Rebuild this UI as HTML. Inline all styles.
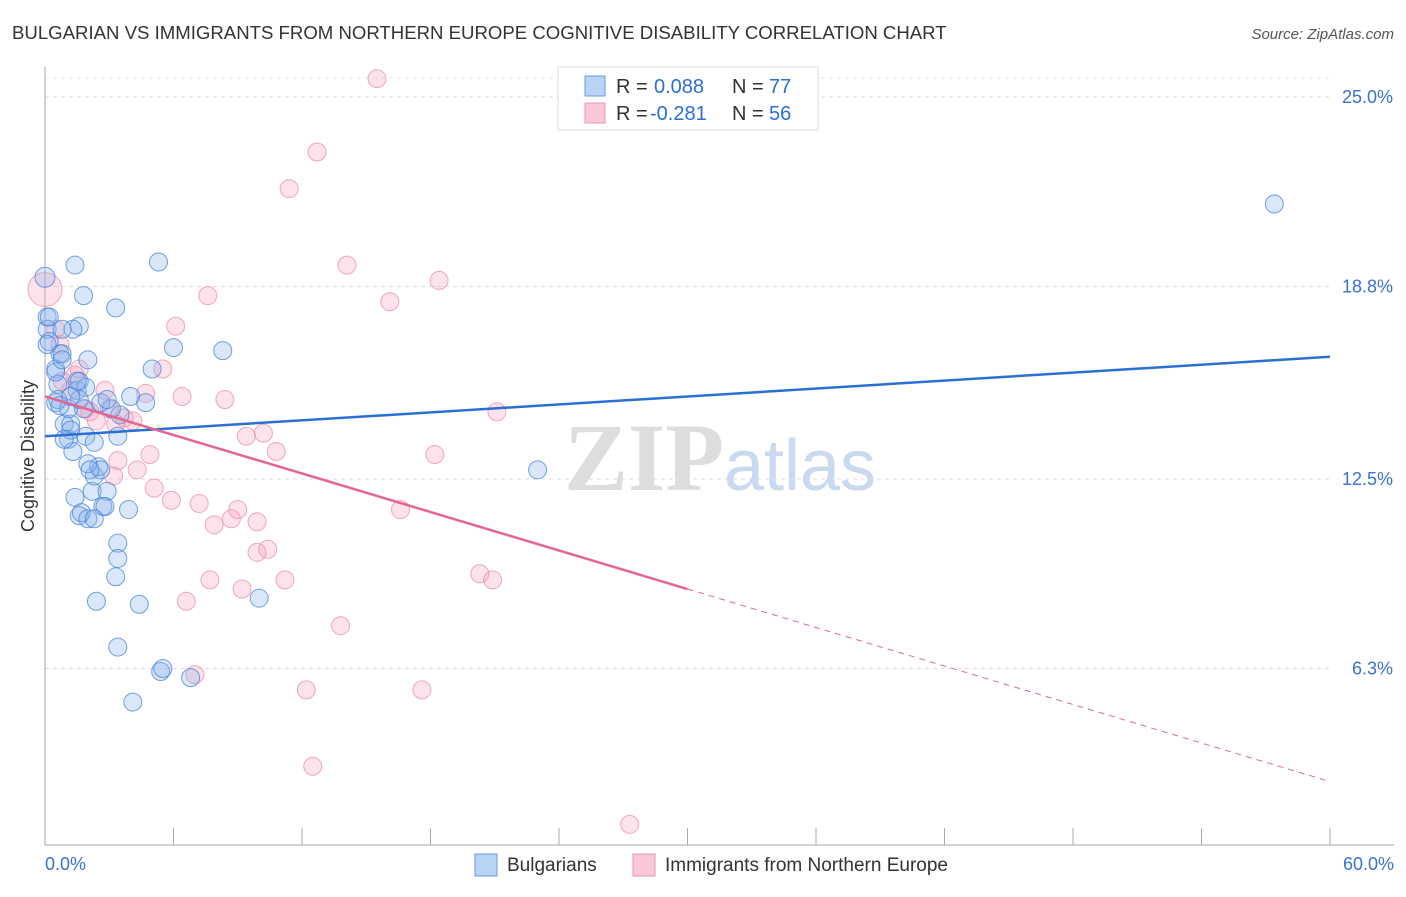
<!DOCTYPE html>
<html><head><meta charset="utf-8"><style>
body{margin:0;background:#fff;font-family:"Liberation Sans",sans-serif;}
svg text{font-family:"Liberation Sans",sans-serif;}
</style></head><body>
<svg id="chart" width="1406" height="892" xmlns="http://www.w3.org/2000/svg">
<text x="12" y="39" font-size="18.6" fill="#333">BULGARIAN VS IMMIGRANTS FROM NORTHERN EUROPE COGNITIVE DISABILITY CORRELATION CHART</text>
<text x="1394" y="39" font-size="15" fill="#555" text-anchor="end" font-style="italic">Source: ZipAtlas.com</text>
<text x="720" y="490" font-size="96" text-anchor="middle"><tspan fill="#ddd" font-family="Liberation Serif" font-weight="bold">ZIP</tspan><tspan fill="#c9d9ef" font-size="72">atlas</tspan></text>
<g id="grid"></g>
<g id="axes"></g>
<g id="pts"></g>
<g id="lines"></g>
<text transform="translate(34,456) rotate(-90)" font-size="18" fill="#333" text-anchor="middle">Cognitive Disability</text>
<g>
<rect x="558" y="67" width="260" height="63" fill="#fff" stroke="#ddd"/>
<rect x="585" y="76" width="20" height="20" fill="#b8d3f5" stroke="#6a9ee0"/>
<rect x="585" y="103" width="20" height="20" fill="#f9c8d6" stroke="#ec94ae"/>
<text y="93" font-size="20" fill="#333"><tspan x="616">R =</tspan><tspan x="654" fill="#2b6fd4">0.088</tspan><tspan x="732">N =</tspan><tspan x="769" fill="#2b6fd4">77</tspan></text>
<text y="120" font-size="20" fill="#333"><tspan x="616">R =</tspan><tspan x="650" fill="#2b6fd4">-0.281</tspan><tspan x="732">N =</tspan><tspan x="769" fill="#2b6fd4">56</tspan></text>
</g>
<g>
<rect x="475" y="854" width="22" height="22" fill="#b8d3f5" stroke="#6a9ee0"/>
<text x="507" y="871" font-size="19" fill="#333">Bulgarians</text>
<rect x="633" y="854" width="22" height="22" fill="#f9c8d6" stroke="#ec94ae"/>
<text x="665" y="871" font-size="19" fill="#333">Immigrants from Northern Europe</text>
</g>
</svg>
<script>
const yTicks=[25.0,18.8,12.5,6.3];
const yTickLabels=["25.0%","18.8%","12.5%","6.3%"];
const xTickLabels=["0.0%","60.0%"];
const blueX=[0.0,0.1,0.1,0.2,0.5,0.6,0.7,0.8,0.5,0.6,0.9,1.1,1.2,1.3,1.1,1.4,1.6,1.3,1.8,2.0,1.6,1.5,1.9,1.4,1.6,1.7,2.0,2.2,2.3,2.5,2.6,2.0,1.9,2.3,2.9,2.7,2.8,3.3,3.4,3.5,3.9,3.4,3.4,3.3,2.4,4.4,3.4,4.1,4.0,4.7,3.1,5.3,6.0,5.0,8.3,5.4,5.5,6.8,10.0,23.0,57.4,0.7,1.2,0.5,0.8,1.5,1.8,2.6,0.9,2.9,2.1,1.6,0.2,0.8,1.2,2.3,0.1];
const blueY=[19.1,17.8,17.4,17.0,16.1,15.6,16.6,16.6,15.0,15.1,14.3,13.8,14.3,13.4,14.8,19.5,17.5,17.4,18.5,16.4,15.7,15.4,15.5,11.9,11.3,11.4,11.2,12.1,12.6,12.9,12.8,13.0,13.9,13.7,12.1,11.6,11.6,18.1,13.9,14.6,11.5,10.4,9.9,9.3,8.5,8.4,7.0,5.2,15.2,15.0,14.8,19.6,16.8,16.1,16.7,6.2,6.3,6.0,8.6,12.8,21.5,14.9,14.1,16.0,16.4,15.7,14.8,15.0,13.8,15.1,12.8,15.1,17.8,17.4,15.2,11.2,16.9];
const pinkX=[0.0,0.5,0.7,0.8,1.2,1.4,1.6,1.9,2.1,2.4,2.8,3.0,3.3,3.7,4.1,4.7,4.9,4.3,3.4,3.2,5.1,5.9,6.6,7.0,7.2,7.6,7.7,7.9,8.4,8.7,9.0,9.2,9.4,9.9,9.9,10.2,10.4,10.8,11.2,11.4,12.2,12.5,12.7,13.8,14.1,15.5,16.1,16.6,17.6,18.2,18.4,20.3,20.9,21.1,27.3,6.1,6.4,5.5];
const pinkY=[18.7,17.4,16.9,15.7,15.4,15.9,16.1,14.8,14.7,14.4,15.4,14.8,14.3,14.5,14.4,15.3,13.3,12.8,13.1,12.6,12.2,11.8,8.5,6.1,11.7,18.5,9.2,11.0,15.1,11.2,11.5,8.9,13.9,11.1,10.1,14.0,10.2,13.4,9.2,22.0,5.6,3.1,23.2,7.7,19.5,25.6,18.3,11.5,5.6,13.3,19.0,9.4,9.2,14.7,1.2,17.5,15.2,16.1];
const blueTrend=[13.9,16.5];
const pinkTrend=[15.2,2.6];
const NS="http://www.w3.org/2000/svg";
const X=v=>45+v/60*1285;
const Y=v=>97+(25-v)/6.25*191;
function mk(tag,attrs,parent){const e=document.createElementNS(NS,tag);for(const k in attrs)e.setAttribute(k,attrs[k]);parent.appendChild(e);return e;}
const grid=document.getElementById('grid'),axes=document.getElementById('axes'),pts=document.getElementById('pts'),lines=document.getElementById('lines');
yTicks.forEach((t,i)=>{
 const l=mk('line',{x1:45,x2:1330,y1:Y(t),y2:Y(t),stroke:'#ddd','stroke-dasharray':'4,4'},grid);
 
 
 const tx=mk('text',{x:1393,y:Y(t)+6,'font-size':18,fill:'#3a72d0','text-anchor':'end'},axes);
 tx.textContent=yTickLabels[i];
 
 
});
const tl=mk('line',{x1:45,x2:1330,y1:78,y2:78,stroke:'#e6e6e6','stroke-dasharray':'4,4'},grid);


const ya=mk('line',{x1:45,x2:45,y1:67,y2:845,stroke:'#aaa'},axes);


const xa=mk('line',{x1:45,x2:1394,y1:845,y2:845,stroke:'#aaa'},axes);


for(let i=0;i<=10;i++){
 const t=mk('line',{x1:X(i*6),x2:X(i*6),y1:828,y2:845,stroke:'#aaa'},axes);
 
 
}
[[0,'start',45],[60,'end',1394]].forEach((d,i)=>{
 const tx=mk('text',{x:d[2],y:870,'font-size':18,fill:'#3a72d0','text-anchor':d[1]},axes);
 tx.textContent=xTickLabels[i];
 
 
});
pinkX.forEach((x,i)=>{
 const c=mk('circle',{cx:X(x),cy:Y(pinkY[i]),r:i==0?17:9,fill:'rgba(244,160,188,0.3)',stroke:'rgba(236,140,170,0.75)','stroke-width':1},pts);
 
 
});
blueX.forEach((x,i)=>{
 const c=mk('circle',{cx:X(x),cy:Y(blueY[i]),r:i==0?10:9,fill:'rgba(140,180,235,0.32)',stroke:'rgba(70,130,215,0.75)','stroke-width':1},pts);
 
 
});
const bl=mk('line',{x1:X(0),y1:Y(blueTrend[0]),x2:X(60),y2:Y(blueTrend[1]),stroke:'#2a6fd6','stroke-width':2.5},lines);


const pm=pinkTrend[0]+(pinkTrend[1]-pinkTrend[0])*0.5;
const pl=mk('line',{x1:X(0),y1:Y(pinkTrend[0]),x2:X(30),y2:Y(pm),stroke:'#e5668f','stroke-width':2.5},lines);


const pd=mk('line',{x1:X(30),y1:Y(pm),x2:X(60),y2:Y(pinkTrend[1]),stroke:'#e5668f','stroke-width':1,'stroke-dasharray':'6,5'},lines);


</script>
</body></html>
